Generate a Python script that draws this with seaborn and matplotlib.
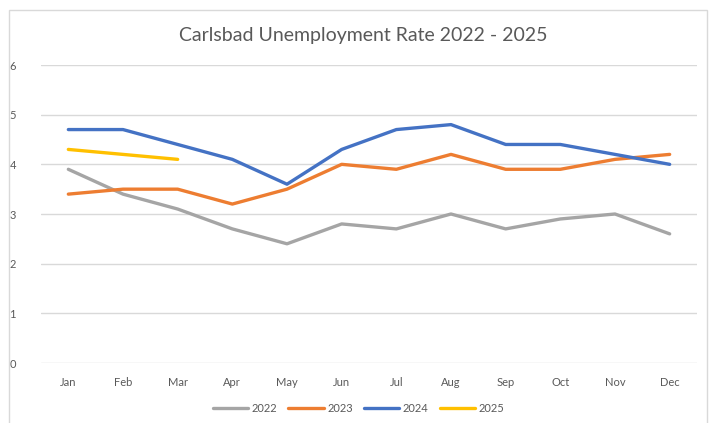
import pandas as pd
import matplotlib
matplotlib.use("Agg")
import matplotlib.pyplot as plt
import seaborn as sns
from matplotlib.patches import Rectangle

months = ["Jan", "Feb", "Mar", "Apr", "May", "Jun",
          "Jul", "Aug", "Sep", "Oct", "Nov", "Dec"]
rate_2022 = [3.9, 3.4, 3.1, 2.7, 2.4, 2.8, 2.7, 3.0, 2.7, 2.9, 3.0, 2.6]
rate_2023 = [3.4, 3.5, 3.5, 3.2, 3.5, 4.0, 3.9, 4.2, 3.9, 3.9, 4.1, 4.2]
rate_2024 = [4.7, 4.7, 4.4, 4.1, 3.6, 4.3, 4.7, 4.8, 4.4, 4.4, 4.2, 4.0]
rate_2025 = [4.3, 4.2, 4.1]
years = ["2022", "2023", "2024", "2025"]
colors = ["#A5A5A5", "#ED7D31", "#4472C4", "#FFC000"]

rows = []
for yr, vals in zip(years, [rate_2022, rate_2023, rate_2024, rate_2025]):
    for i, v in enumerate(vals):
        rows.append({"Month": months[i], "Year": yr, "Rate": v})
df = pd.DataFrame(rows)

sns.set_style("white")
plt.rcParams['font.family'] = ['Lato', 'DejaVu Sans']

fig = plt.figure(figsize=(7.17, 4.23), dpi=100)
ax = fig.add_axes([41/717, 1 - 363/423, 656/717, 298/423])

sns.lineplot(data=df, x="Month", y="Rate", hue="Year", palette=colors,
             linewidth=2.4, sort=False, ax=ax)

ax.set_xlim(-0.5, 11.5)
ax.set_ylim(0, 6)
ax.set_yticks(range(0, 7))
ax.grid(axis="y", color="#d9d9d9", linewidth=1)
ax.set_axisbelow(True)
for s in ax.spines.values():
    s.set_visible(False)
ax.tick_params(axis="both", length=0, labelsize=8, colors="#595959", pad=0)
ax.tick_params(axis="x", pad=10)
ax.tick_params(axis="y", pad=18)
ax.set_xlabel("")
ax.set_ylabel("")

fig.text(363/717, 1 - 35/423, "Carlsbad Unemployment Rate 2022 - 2025",
         ha="center", va="center", fontsize=14, color="#595959")

leg = ax.legend(loc="center", bbox_to_anchor=(0.5, 1 - 408/423),
                bbox_transform=fig.transFigure, ncol=4, frameon=False,
                fontsize=8, handlelength=3.2, handletextpad=0.3,
                columnspacing=1.0, labelcolor="#595959")

# chart border like the spreadsheet chart box
fig.patches.append(Rectangle((9/717, -0.05), 698/717, 1 - 10/423 + 0.05,
                             transform=fig.transFigure, fill=False,
                             edgecolor="#d9d9d9", linewidth=1))

fig.savefig("out.png", dpi=100)
